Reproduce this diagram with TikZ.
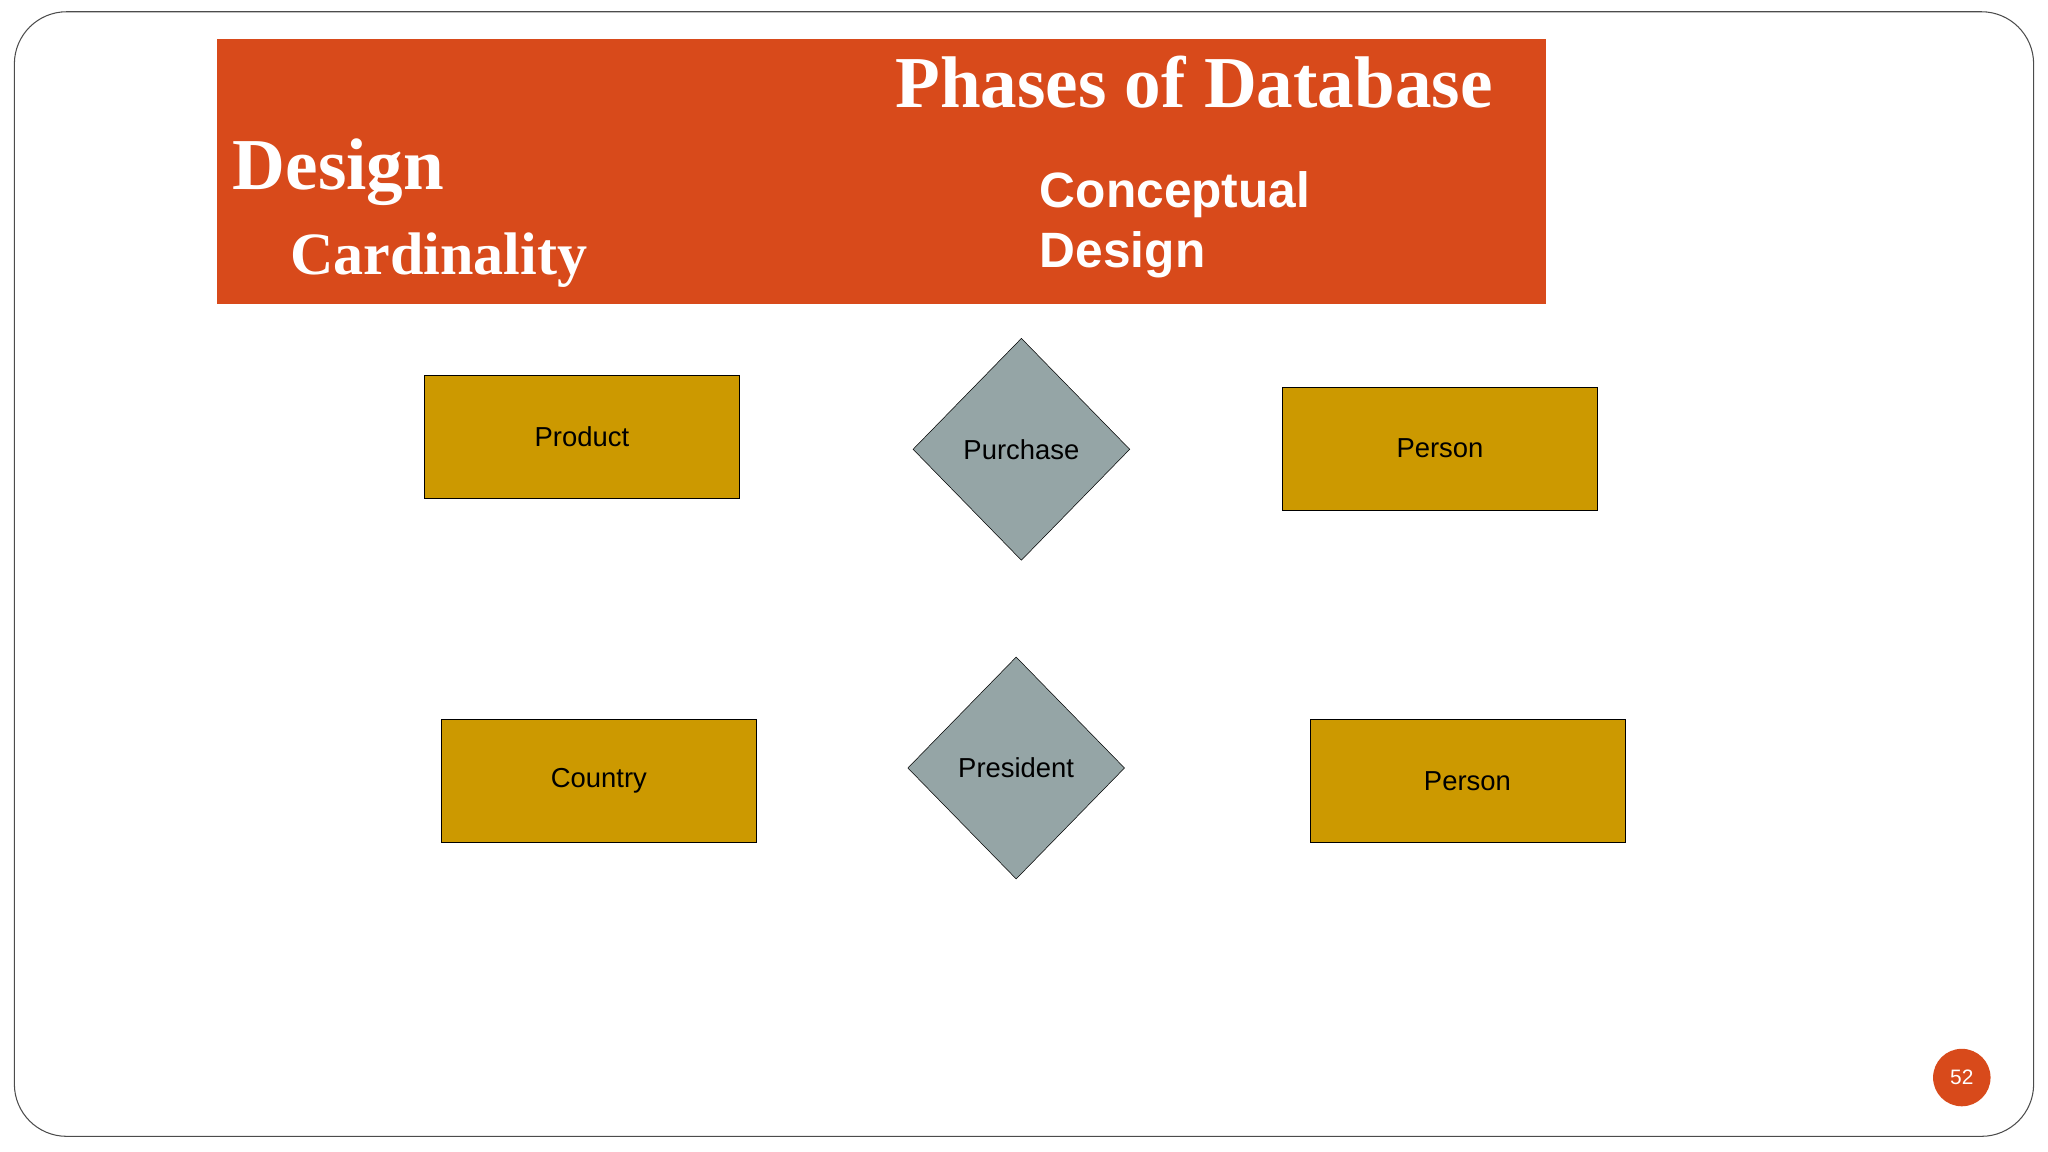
\documentclass[tikz,border=0pt]{standalone}
\usepackage{fontspec}
\setmainfont{Liberation Serif}
\setsansfont{Liberation Sans}
\usetikzlibrary{shapes.geometric}
\definecolor{hdr}{HTML}{D84A1B}
\definecolor{ent}{HTML}{CC9900}
\definecolor{rel}{HTML}{95A5A6}
\tikzset{entity/.style={draw=black,fill=ent,minimum width=241pt,minimum height=94pt,font=\sffamily\fontsize{21}{25}\selectfont,inner sep=0pt},
relation/.style={draw=black,fill=rel,diamond,minimum width=166pt,minimum height=170pt,inner sep=0pt,font=\sffamily\fontsize{21}{25}\selectfont},
ttl/.style={text=white,font=\bfseries\fontsize{56}{60}\selectfont,inner sep=0pt}}
\begin{document}
\begin{tikzpicture}[x=1pt,y=-1pt]
\useasboundingbox (0,0) rectangle (1568,882);
\draw[black!70,rounded corners=40pt,line width=0.8pt] (11,9) rectangle (1557,870);
\fill[hdr] (166,30) rectangle (1184,233);
\node[ttl,anchor=base east] (t1) at (1143,82) {Phases of Database};
\node[ttl,anchor=base west] (t2) at (178,145) {Design};
\node[ttl,anchor=base west,font=\bfseries\fontsize{46}{50}\selectfont] (t3) at (222,210) {Cardinality};
\begin{scope}
\clip (166,30) rectangle (1184,233);
\node[text=white,font=\sffamily\bfseries\fontsize{38}{46}\selectfont,anchor=base west,align=left,inner sep=0pt] (t4) at (796,205) {Conceptual\\Design};
\end{scope}
\node[entity] (p1) at (445.5,334.5) {Product};
\node[entity] (p2) at (1102.5,343.5) {Person};
\node[entity] (c1) at (458.5,598) {Country};
\node[entity] (p3) at (1123.5,598) {Person};
\node[relation] (r1) at (782,344) {Purchase};
\node[relation] (r2) at (778,588) {President};
\node[circle,fill=hdr,minimum size=44pt,text=white,font=\sffamily\fontsize{16}{18}\selectfont,inner sep=0pt] (pg) at (1502,825) {52};
\end{tikzpicture}
\end{document}
